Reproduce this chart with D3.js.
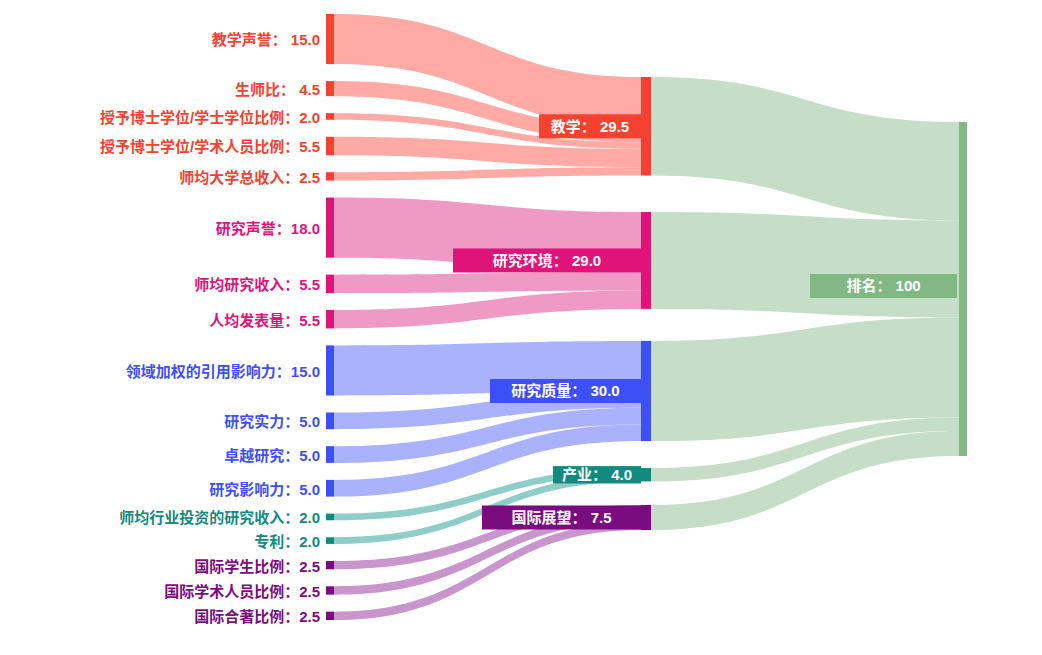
<!DOCTYPE html>
<html>
<head>
<meta charset="utf-8">
<script src="https://cdn.jsdelivr.net/npm/d3@7"></script>
<style>
  body { margin: 0; background: #fff; }
  svg { display: block; font-family: "Liberation Sans", "Noto Sans CJK SC", sans-serif; }
</style>
</head>
<body>
<div id="chart"></div>
<script>
// groups (middle column)
const groups = ['教学', '研究环境', '研究质量', '产业', '国际展望'];
const groupValues = [29.5, 29.0, 30.0, 4.0, 7.5];

// indicators (left column)
const indicators = [
  '教学声誉', '生师比', '授予博士学位/学士学位比例', '授予博士学位/学术人员比例', '师均大学总收入',
  '研究声誉', '师均研究收入', '人均发表量',
  '领域加权的引用影响力', '研究实力', '卓越研究', '研究影响力',
  '师均行业投资的研究收入', '专利',
  '国际学生比例', '国际学术人员比例', '国际合著比例'
];
const indicatorValues = [15.0, 4.5, 2.0, 5.5, 2.5, 18.0, 5.5, 5.5, 15.0, 5.0, 5.0, 5.0, 2.0, 2.0, 2.5, 2.5, 2.5];
const indicatorGroup = [0, 0, 0, 0, 0, 1, 1, 1, 2, 2, 2, 2, 3, 3, 4, 4, 4];
const spaceAfterColon = [true, true, false, false, false, false, false, false, false, false, false, false, false, false, false, false, false];

// total (right column)
const totalName = '排名';
const totalValue = 100;

// styles
const nodeColors = ['#f5412f', '#e0137a', '#3d4ff7', '#138a80', '#7b0c80'];
const linkColors = ['#ffaaa5', '#ee9ac4', '#aab2fd', '#8fcdc8', '#c896cc'];
const totalNodeColor = '#82b883';
const totalLinkColor = '#c6ddc7';
const groupLabelWidths = [102, 188, 151, 88, 159];
const midGaps = [36.5, 32, 27, 23.5];

const width = 1042, height = 655;
const leftX = 326, nodeW = 8;
const midX = 641, midW = 10;
const rightX = 959, rightW = 8;
const leftTop = 14, leftPad = 17;
const midTop = 77;
const rightTop = 122;

const hScale = d3.scaleLinear().domain([0, 100]).range([0, 334]);

const svg = d3.select('#chart').append('svg')
  .attr('width', width).attr('height', height);

// layout left nodes
let y = leftTop;
const leftNodes = indicators.map((name, i) => {
  const h = hScale(indicatorValues[i]);
  const n = { name, value: indicatorValues[i], g: indicatorGroup[i], y0: y, y1: y + h, i };
  y += h + leftPad;
  return n;
});

// layout middle nodes
y = midTop;
const midNodes = groups.map((name, i) => {
  const h = hScale(groupValues[i]);
  const n = { name, value: groupValues[i], y0: y, y1: y + h, off: y, i };
  y += h + (midGaps[i] || 0);
  return n;
});

const rightNode = { y0: rightTop, y1: rightTop + hScale(totalValue), off: rightTop };

function ribbon(x0, a0, b0, x1, a1, b1) {
  const xm = (x0 + x1) / 2;
  return `M${x0},${a0}C${xm},${a0} ${xm},${a1} ${x1},${a1}` +
    `L${x1},${b1}C${xm},${b1} ${xm},${b0} ${x0},${b0}Z`;
}

const links = svg.append('g').attr('class', 'links');

// left -> middle
leftNodes.forEach((n) => {
  const m = midNodes[n.g];
  const h = n.y1 - n.y0;
  const t0 = m.off;
  m.off += h;
  links.append('path')
    .attr('d', ribbon(leftX + nodeW, n.y0, n.y1, midX, t0, t0 + h))
    .attr('fill', linkColors[n.g]);
});

// middle -> right
midNodes.forEach((m) => {
  const h = m.y1 - m.y0;
  const t0 = rightNode.off;
  rightNode.off += h;
  links.append('path')
    .attr('d', ribbon(midX + midW, m.y0, m.y1, rightX, t0, t0 + h))
    .attr('fill', totalLinkColor);
});

// nodes
const nodes = svg.append('g').attr('class', 'nodes');
nodes.selectAll('rect.left').data(leftNodes).join('rect')
  .attr('class', 'left')
  .attr('x', leftX).attr('y', (d) => d.y0)
  .attr('width', nodeW).attr('height', (d) => d.y1 - d.y0)
  .attr('fill', (d) => nodeColors[d.g]);

nodes.selectAll('rect.mid').data(midNodes).join('rect')
  .attr('class', 'mid')
  .attr('x', midX).attr('y', (d) => d.y0)
  .attr('width', midW).attr('height', (d) => d.y1 - d.y0)
  .attr('fill', (d) => nodeColors[d.i]);

nodes.append('rect')
  .attr('x', rightX).attr('y', rightNode.y0)
  .attr('width', rightW).attr('height', rightNode.y1 - rightNode.y0)
  .attr('fill', totalNodeColor);

// left labels
svg.append('g').selectAll('text').data(leftNodes).join('text')
  .attr('x', leftX - 6)
  .attr('y', (d) => (d.y0 + d.y1) / 2 + 1)
  .attr('dy', '0.36em')
  .attr('text-anchor', 'end')
  .attr('font-size', 15)
  .attr('font-weight', 'bold')
  .attr('fill', (d) => nodeColors[d.g])
  .text((d) => d.name + '：' + (spaceAfterColon[d.i] ? ' ' : '') + d.value.toFixed(1));

// middle labels with boxes
const midLabels = svg.append('g').selectAll('g').data(midNodes).join('g');
midLabels.append('rect')
  .attr('x', (d) => midX - groupLabelWidths[d.i])
  .attr('y', (d) => (d.y0 + d.y1) / 2 - Math.min(24, d.y1 - d.y0 + 4) / 2)
  .attr('width', (d) => groupLabelWidths[d.i])
  .attr('height', (d) => Math.min(24, d.y1 - d.y0 + 4))
  .attr('fill', (d) => nodeColors[d.i]);
midLabels.append('text')
  .attr('x', (d) => midX - groupLabelWidths[d.i] / 2)
  .attr('y', (d) => (d.y0 + d.y1) / 2)
  .attr('dy', '0.36em')
  .attr('text-anchor', 'middle')
  .attr('font-size', 15)
  .attr('font-weight', 'bold')
  .attr('fill', '#fff')
  .text((d) => d.name + '： ' + d.value.toFixed(1));

// right label
const rc = (rightNode.y0 + rightNode.y1) / 2 - 3;
svg.append('rect')
  .attr('x', 810).attr('y', rc - 12)
  .attr('width', rightX - 2 - 810).attr('height', 24)
  .attr('fill', totalNodeColor);
svg.append('text')
  .attr('x', (810 + rightX - 2) / 2).attr('y', rc)
  .attr('dy', '0.36em')
  .attr('text-anchor', 'middle')
  .attr('font-size', 15)
  .attr('font-weight', 'bold')
  .attr('fill', '#fff')
  .text(totalName + '： ' + totalValue);
</script>
</body>
</html>
